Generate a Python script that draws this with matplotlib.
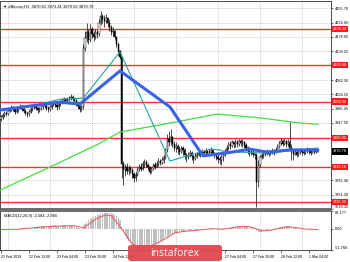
import matplotlib

matplotlib.use("Agg")
import matplotlib.pyplot as plt
import matplotlib.transforms as mtransforms
from matplotlib.patches import FancyBboxPatch
import numpy as np

plt.rcParams["font.family"] = ["Liberation Sans", "DejaVu Sans"]

TITLE = "\u25bc #Bitcoin,H1  3870.61 3872.41 3870.56 3870.78"
MACD_TITLE = "MACD(12,26,9) -2.584 -2.865"

# H1 bars, hours counted from 21 Feb 2019 00:00; first bar = 21 Feb 20:00
FIRST_HOUR = 20
FIRST_OPEN = 3958

CLOSE = [
    3962, 3968, 3975, 3972, 3980, 3985, 3990, 3984, 3978, 3982,
    3988, 3992, 3986, 3980, 3975, 3970, 3978, 3984, 3990, 3995,
    3988, 3982, 3986, 3992, 3998, 3994, 3988, 3984, 3990, 3996,
    4000, 3995, 3990, 3998, 4002, 4008, 4012, 4006, 4010, 4015,
    4018, 4012, 4008, 4000, 3992, 3985, 3990, 4148, 4175, 4190,
    4170, 4200, 4185, 4178, 4192, 4185, 4215, 4235, 4225, 4222,
    4230, 4215, 4205, 4190, 4195, 4178, 4160, 4140, 4125, 3838,
    3822, 3830, 3818, 3826, 3822, 3810, 3800, 3808, 3822, 3830,
    3825, 3838, 3842, 3835, 3828, 3815, 3825, 3835, 3830, 3838,
    3845, 3840, 3848, 3855, 3875, 3905, 3895, 3910, 3890, 3880,
    3885, 3878, 3870, 3880, 3875, 3862, 3855, 3860, 3868, 3858,
    3850, 3858, 3862, 3868, 3865, 3870, 3866, 3872, 3868, 3870,
    3874, 3866, 3860, 3855, 3850, 3848, 3855, 3862, 3872, 3880,
    3890, 3886, 3895, 3890, 3896, 3892, 3898, 3893, 3896, 3888,
    3880, 3872, 3866, 3870, 3864, 3860, 3788, 3835, 3856, 3862,
    3862, 3866, 3870, 3864, 3868, 3872, 3868, 3876, 3884, 3894,
    3900, 3892, 3898, 3890, 3896, 3880, 3872, 3865, 3870, 3862,
    3868, 3874, 3870, 3866, 3872, 3876, 3872, 3868, 3874, 3870,
    3870.61, 3870.78,
]
HIGH = [
    3968, 3974, 3980, 3979, 3985, 3990, 3996, 3992, 3987, 3987,
    3993, 3998, 3996, 3990, 3984, 3978, 3983, 3990, 3996, 4002,
    3998, 3992, 3991, 3997, 4004, 4002, 3997, 3992, 3995, 4002,
    4006, 4004, 3998, 4004, 4008, 4014, 4018, 4015, 4016, 4020,
    4024, 4021, 4016, 4012, 4004, 3996, 3995, 4158, 4195, 4215,
    4200, 4212, 4205, 4195, 4200, 4198, 4225, 4248, 4240, 4236,
    4240, 4232, 4225, 4210, 4205, 4198, 4180, 4162, 4142, 4128,
    3845, 3838, 3840, 3835, 3832, 3826, 3815, 3815, 3828, 3838,
    3840, 3845, 3850, 3848, 3840, 3832, 3830, 3840, 3842, 3845,
    3852, 3850, 3856, 3862, 3880, 3918, 3925, 3930, 3912, 3898,
    3895, 3892, 3885, 3886, 3885, 3880, 3868, 3870, 3875, 3872,
    3862, 3866, 3870, 3874, 3872, 3878, 3876, 3880, 3876, 3878,
    3882, 3878, 3870, 3866, 3862, 3858, 3860, 3868, 3878, 3888,
    3896, 3898, 3902, 3900, 3904, 3902, 3905, 3904, 3903, 3900,
    3894, 3885, 3878, 3876, 3874, 3868, 3866, 3848, 3860, 3866,
    3870, 3874, 3878, 3874, 3876, 3880, 3878, 3884, 3892, 3900,
    3906, 3904, 3905, 3902, 3904, 3950, 3890, 3878, 3878, 3874,
    3875, 3880, 3878, 3874, 3878, 3882, 3880, 3876, 3880, 3878,
    3878, 3872.41,
]
LOW = [
    3952, 3958, 3964, 3966, 3968, 3976, 3980, 3979, 3972, 3974,
    3978, 3984, 3980, 3975, 3968, 3962, 3966, 3974, 3980, 3986,
    3982, 3975, 3978, 3982, 3986, 3988, 3982, 3978, 3980, 3986,
    3992, 3990, 3982, 3986, 3994, 3998, 4003, 4000, 4002, 4006,
    4010, 4006, 4002, 3994, 3986, 3978, 3980, 3986, 4140, 4165,
    4160, 4165, 4175, 4168, 4172, 4176, 4180, 4210, 4215, 4205,
    4215, 4205, 4195, 4182, 4180, 4172, 4150, 4130, 4118, 3800,
    3780, 3805, 3810, 3808, 3812, 3800, 3790, 3792, 3805, 3818,
    3818, 3822, 3830, 3828, 3820, 3810, 3812, 3822, 3825, 3828,
    3832, 3834, 3836, 3840, 3850, 3870, 3885, 3888, 3882, 3872,
    3870, 3865, 3862, 3866, 3860, 3850, 3842, 3850, 3855, 3848,
    3840, 3848, 3852, 3858, 3856, 3860, 3860, 3862, 3860, 3862,
    3865, 3860, 3852, 3848, 3840, 3838, 3835, 3845, 3858, 3868,
    3876, 3878, 3882, 3880, 3884, 3882, 3886, 3885, 3884, 3880,
    3872, 3864, 3858, 3860, 3856, 3850, 3722, 3775, 3830, 3850,
    3852, 3858, 3862, 3858, 3860, 3864, 3860, 3866, 3872, 3880,
    3888, 3886, 3888, 3884, 3886, 3872, 3848, 3848, 3860, 3855,
    3858, 3864, 3862, 3860, 3864, 3868, 3865, 3862, 3866, 3864,
    3866, 3870.56,
]

# moving averages, read as vertices (hour, price)
BLUE_H = [19.4, 53.7, 65.1, 88, 116.6, 135.4, 149.1, 162.3, 172, 185.1, 201.1]
BLUE_P = [3982, 4003, 3998, 4087, 3990, 3859, 3867, 3877, 3869, 3875, 3875]
TEAL_H = [19.4, 42, 54, 67, 88, 116.5, 122, 134, 139.5, 145, 149, 156.5, 168, 175.5, 183.5, 191, 201]
TEAL_P = [3982, 3998, 4011, 4014, 4138, 3845, 3853, 3869, 3877, 3875, 3867, 3869, 3867, 3867, 3872, 3875, 3880]
GREEN_H = [19.4, 48, 76.6, 88, 110.9, 143.4, 168, 190.9, 201.1]
GREEN_P = [3767, 3829, 3893, 3923, 3942, 3971, 3961, 3947, 3944]

RED_LEVELS = [4199.40, 4102.80, 4004.80, 3906.90, 3829.10, 3735.20]
LAST_PRICE = 3870.78

PRICE_TICKS = [4255.70, 4216.60, 4178.65, 4139.55, 4062.50, 4024.55, 3985.45, 3947.50, 3793.40, 3754.30, 3716.35]
PRICE_LIM = (3715.1, 4274.5)

MACD_HIST = [
    -2, -3, -3, -2, -2, -1, 0, 0, -1, -1, 0, 1, 2, 2, 1, 0, 0,
    1, 3, 5, 7, 8, 9, 9, 10, 11, 11, 10, 10, 11, 12, 12, 11, 10, 11, 12, 13, 13, 13, 13, 12, 11, 9,
    7, 4, 1, 0,
    8, 16, 24, 30, 36, 40, 43, 46, 48, 51, 54, 56, 57, 58, 58, 57, 55, 54, 50, 45, 38, 30,
    5, -12, -25, -36, -45, -53, -60, -66, -70, -73,
    -74, -74, -73, -71, -69, -67, -66, -64, -61, -58,
    -55, -52, -49, -46, -42, -37, -30, -25, -20, -18,
    -16, -14, -13, -12, -10, -9, -9, -9, -8, -7,
    -7, -7, -6, -5, -4, -3, -2, -1,
    0, 0, 0, 1, 0, -1, -2, -4, -5, -5,
    -4, -2, 0, 2, 4, 6, 7, 8, 9, 10,
    10, 10, 9, 7, 5, 3, 2, 1, 0, -8,
    -13, -13, -11, -9, -7, -5, -4, -3, -2, -1,
    1, 3, 5, 7, 8, 9, 9, 9, 8, 6,
    4, 3, 1, 0, 0, -1, -1, -1, -1, -2,
    -2, -2, -2, -3, -2.584,
]
SIG_BAR = [0, 10, 18, 30, 42, 47, 51, 55, 60, 63, 66, 68, 72, 75, 79, 84, 90, 95, 99, 104,
           110, 116, 122, 126, 130, 136, 141, 145, 149, 153, 158, 164, 168, 172, 176, 181]
SIG_VAL = [-3, -2, 3, 9, 11, 3, 20, 38, 50, 47, 25, 8, -28, -55, -68, -66, -50, -32, -16, -10,
           -7, -3, 0, -2, 1, 7, 8, 2, -8, -7, 0, 7, 5, 0, -2, -2.865]
MACD_LIM = (-78.6, 62.177)
MACD_TICK_LABELS = ["62.177", "0.00", "-51.766"]

DAY_HOURS = [24, 48, 72, 96, 120, 144, 168, 192]
# labels that sit wholly under the watermark are not visible in the chart
LABEL_HOURS = [20, 36, 52, 68, 84, 148, 164, 180, 196]
LABELS = ["21 Feb 2019", "22 Feb 12:00", "23 Feb 04:00", "23 Feb 20:00", "24 Feb 12:00",
          "27 Feb 04:00", "27 Feb 20:00", "28 Feb 12:00", "1 Mar 04:00"]
X_LIM = (19.43, 208.57)

GRID = dict(color="#a9a9a9", ls=(0, (1.2, 1.8)), lw=0.5)


def main() -> None:
    close = np.array(CLOSE, float)
    high = np.array(HIGH, float)
    low = np.array(LOW, float)
    assert len(close) == len(high) == len(low) == len(MACD_HIST)
    hours = FIRST_HOUR + np.arange(len(close))
    opens = np.r_[FIRST_OPEN, close[:-1]]
    up = close >= opens

    fig = plt.figure(figsize=(3.5, 2.62), dpi=100)
    ax = fig.add_axes([0, 0.2004, 0.9457, 0.7958])
    axm = fig.add_axes([0, 0.0439, 0.9457, 0.1489], sharex=ax)

    # candles
    ax.vlines(hours, low, high, colors="black", linewidth=0.5, zorder=3)
    ax.bar(hours, np.maximum(np.abs(close - opens), 1.5), bottom=np.minimum(close, opens),
           width=0.7, color=np.where(up, "white", "black"), edgecolor="black",
           linewidth=0.35, zorder=3.1)

    for lvl in RED_LEVELS:
        ax.axhline(lvl, color="#ff3030", lw=1.0, zorder=2)

    ax.plot(GREEN_H, GREEN_P, color="#3fe03f", lw=0.9, zorder=4)
    ax.plot(TEAL_H, TEAL_P, color="#22a59c", lw=0.8, zorder=4)
    ax.plot(BLUE_H, BLUE_P, color="#3a62e6", lw=2.2, zorder=4.2, solid_capstyle="round")

    ax.set_ylim(*PRICE_LIM)
    ax.set_xlim(*X_LIM)
    ax.yaxis.tick_right()
    ax.set_yticks(PRICE_TICKS)
    ax.set_yticklabels([f"{v:.2f}" for v in PRICE_TICKS])
    ax.tick_params(axis="y", length=1.5, width=0.4, pad=1, labelsize=2.8)
    ax.get_yticklabels()[-1].set_va("bottom")
    ax.grid(axis="y", **GRID)

    axm.set_xticks(LABEL_HOURS)
    axm.set_xticklabels(LABELS, ha="left")
    axm.set_xticks(DAY_HOURS, minor=True)
    ax.tick_params(axis="x", which="both", bottom=False, labelbottom=False)
    axm.tick_params(axis="x", which="major", length=2, width=0.4, pad=1, labelsize=2.6)
    axm.tick_params(axis="x", which="minor", length=0)
    ax.grid(axis="x", which="minor", **GRID)
    axm.grid(axis="x", which="minor", **GRID)

    tr = mtransforms.blended_transform_factory(ax.transAxes, ax.transData)
    for lvl in RED_LEVELS:
        ax.text(1.006, lvl, f"{lvl:.2f}", transform=tr, ha="left", va="center", fontsize=2.8,
                color="white", clip_on=False, zorder=6,
                bbox=dict(boxstyle="square,pad=0.3", fc="#ff1a1a", ec="none"))
    ax.text(1.006, LAST_PRICE, f"{LAST_PRICE:.2f}", transform=tr, ha="left", va="center",
            fontsize=2.8, color="white", clip_on=False, zorder=6,
            bbox=dict(boxstyle="square,pad=0.3", fc="black", ec="none"))

    ax.text(0.008, 0.985, TITLE, transform=ax.transAxes, ha="left", va="top", fontsize=3.0,
            family=["Liberation Sans", "DejaVu Sans"], zorder=7)

    # MACD sub-window
    axm.bar(hours, MACD_HIST, width=0.6, color="#c0c0c0", lw=0, zorder=2)
    axm.plot(FIRST_HOUR + np.array(SIG_BAR), SIG_VAL, color="#ec5656", lw=0.7, zorder=3)
    axm.set_ylim(*MACD_LIM)
    axm.yaxis.tick_right()
    axm.set_yticks([MACD_LIM[1], 0, MACD_LIM[0]])
    axm.set_yticklabels(MACD_TICK_LABELS)
    axm.tick_params(axis="y", length=1.5, width=0.4, pad=1, labelsize=2.8)
    yl = axm.get_yticklabels()
    yl[0].set_va("top")
    yl[2].set_va("bottom")
    axm.text(0.012, 0.93, MACD_TITLE, transform=axm.transAxes, ha="left", va="top", fontsize=2.9)

    for a in (ax, axm):
        for s in a.spines.values():
            s.set_linewidth(0.6)
            s.set_color("#303030")
    ax.spines["bottom"].set_linewidth(1.3)
    ax.spines["bottom"].set_color("#606060")
    axm.spines["top"].set_linewidth(1.3)
    axm.spines["top"].set_color("#606060")

    # watermark, drawn over the bottom of the chart
    logo = FancyBboxPatch((128 / 350, 1 / 262), 94 / 350, 16 / 262,
                          boxstyle="round,pad=0,rounding_size=0.01",
                          transform=fig.transFigure, facecolor="#e0474c", edgecolor="none",
                          alpha=0.95, zorder=10)
    fig.add_artist(logo)
    fig.add_artist(plt.Text(175 / 350, 9 / 262, "instaforex", color="white", fontsize=7.5,
                            ha="center", va="center", family=["Open Sans", "DejaVu Sans"],
                            transform=fig.transFigure, zorder=11))

    fig.savefig("out.png", dpi=100, facecolor="white")


if __name__ == "__main__":
    main()
